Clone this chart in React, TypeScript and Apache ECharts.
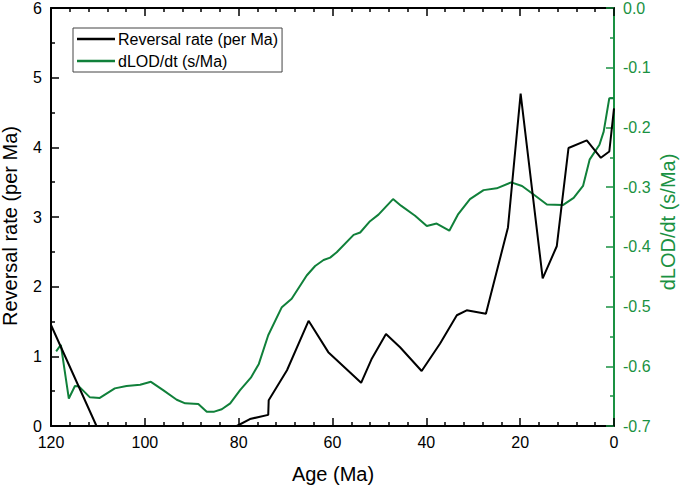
import React, { useEffect, useRef } from "react";
import * as echarts from "echarts";

const reversalAge = [120, 110.3, 80.4, 77.6, 73.7, 73.6, 69.7, 65.1, 60.9, 53.9, 51.6, 48.6, 45.6, 41.0, 37.1, 33.5, 31.4, 27.3, 22.6, 19.9, 15.2, 12.2, 9.7, 5.8, 2.8, 1.0, 0];
const reversalRate = [1.45, 0, 0, 0.1, 0.16, 0.37, 0.8, 1.51, 1.06, 0.62, 0.97, 1.32, 1.13, 0.79, 1.18, 1.59, 1.66, 1.61, 2.85, 4.77, 2.12, 2.58, 3.99, 4.1, 3.85, 3.94, 4.56];

const lodAge = [118.9, 117.9, 116.2, 114.9, 114.0, 111.7, 109.6, 106.4, 103.9, 101.0, 98.7, 96.1, 93.2, 91.4, 88.6, 86.8, 85.2, 83.6, 81.8, 79.7, 77.4, 75.7, 73.7, 70.8, 68.7, 65.5, 63.7, 61.9, 60.5, 59.1, 55.5, 54.1, 52.0, 50.2, 47.1, 45.4, 42.4, 39.9, 37.8, 35.1, 33.2, 30.7, 27.8, 25.0, 21.9, 19.6, 17.2, 14.3, 10.9, 8.6, 6.6, 5.2, 3.1, 2.2, 1.0, 0];
const lodRate = [-0.575, -0.564, -0.654, -0.633, -0.634, -0.652, -0.653, -0.637, -0.633, -0.631, -0.626, -0.64, -0.656, -0.662, -0.663, -0.676, -0.676, -0.672, -0.662, -0.64, -0.619, -0.596, -0.548, -0.501, -0.487, -0.448, -0.432, -0.422, -0.418, -0.409, -0.38, -0.376, -0.357, -0.346, -0.32, -0.331, -0.348, -0.365, -0.361, -0.373, -0.345, -0.32, -0.305, -0.302, -0.292, -0.298, -0.312, -0.329, -0.33, -0.318, -0.298, -0.254, -0.229, -0.207, -0.151, -0.151];

const seriesNames = ["Reversal rate (per Ma)", "dLOD/dt (s/Ma)"];
const xTitle = "Age (Ma)";
const leftTitle = "Reversal rate (per Ma)";
const rightTitle = "dLOD/dt (s/Ma)";

const FONT = "'Liberation Sans', Arial, sans-serif";
const BLACK = "#000000";
const GREEN_LINE = "#10803a";
const GREEN_AXIS = "#1a9142";

export default function App() {
  const ref = useRef<HTMLDivElement>(null);
  useEffect(() => {
    if (!ref.current) return;
    const chart = echarts.init(ref.current, null, { renderer: "svg" });
    const xCommon = {
      type: "value",
      min: 0,
      max: 120,
      interval: 20,
      inverse: true,
      splitLine: { show: false },
      axisLine: { show: true, onZero: false, lineStyle: { color: BLACK, width: 2 } },
      axisTick: { show: true, inside: true, length: 8, lineStyle: { color: BLACK, width: 1.5 } },
      minorTick: { show: true, splitNumber: 5, length: 4, lineStyle: { color: BLACK, width: 1.5 } },
    };
    chart.setOption({
      animation: false,
      backgroundColor: "#ffffff",
      grid: { left: 51, right: 66, top: 6, bottom: 59, containLabel: false },
      legend: {
        left: 73,
        top: 28,
        orient: "vertical",
        data: [
          { name: seriesNames[0], icon: "rect", itemStyle: { color: BLACK } },
          { name: seriesNames[1], icon: "rect", itemStyle: { color: GREEN_LINE } },
        ],
        itemWidth: 38,
        itemHeight: 2.5,
        itemGap: 6,
        padding: [3, 4, 3, 4],
        borderColor: "#444",
        borderWidth: 1,
        borderRadius: 0,
        textStyle: { fontFamily: FONT, fontSize: 16, color: BLACK, padding: [0, 0, 0, -2] },
      },
      xAxis: [
        {
          ...xCommon,
          position: "bottom",
          axisLabel: { show: true, fontFamily: FONT, fontSize: 16, color: BLACK, margin: 8 },
        },
        {
          ...xCommon,
          position: "top",
          axisLabel: { show: false },
        },
      ],
      yAxis: [
        {
          type: "value",
          position: "left",
          min: 0,
          max: 6,
          interval: 1,
          splitLine: { show: false },
          axisLine: { show: true, onZero: false, lineStyle: { color: BLACK, width: 2 } },
          axisTick: { show: true, inside: true, length: 8, lineStyle: { color: BLACK, width: 1.5 } },
          minorTick: { show: true, splitNumber: 2, length: 4, lineStyle: { color: BLACK, width: 1.5 } },
          axisLabel: { fontFamily: FONT, fontSize: 16, color: BLACK, margin: 9 },
        },
        {
          type: "value",
          position: "right",
          min: -0.7,
          max: 0,
          interval: 0.1,
          splitLine: { show: false },
          axisLine: { show: true, onZero: false, lineStyle: { color: GREEN_AXIS, width: 2 } },
          axisTick: { show: true, inside: true, length: 8, lineStyle: { color: GREEN_AXIS, width: 1.5 } },
          minorTick: { show: true, splitNumber: 2, length: 4, lineStyle: { color: GREEN_AXIS, width: 1.5 } },
          axisLabel: {
            fontFamily: FONT,
            fontSize: 16,
            color: GREEN_AXIS,
            margin: 9,
            formatter: (v: number) => (Math.abs(v) < 1e-9 ? "0.0" : v.toFixed(1)),
          },
        },
      ],
      graphic: [
        {
          type: "text",
          x: 333,
          y: 474,
          style: { text: xTitle, fontFamily: FONT, fontSize: 20, fill: BLACK, align: "center", verticalAlign: "middle" },
        },
        {
          type: "text",
          x: 10,
          y: 226,
          rotation: Math.PI / 2,
          style: { text: leftTitle, fontFamily: FONT, fontSize: 20, fill: BLACK, align: "center", verticalAlign: "middle" },
        },
        {
          type: "text",
          x: 668,
          y: 222,
          rotation: Math.PI / 2,
          style: { text: rightTitle, fontFamily: FONT, fontSize: 20, fill: GREEN_AXIS, align: "center", verticalAlign: "middle" },
        },
      ],
      series: [
        {
          name: seriesNames[0],
          type: "line",
          xAxisIndex: 0,
          yAxisIndex: 0,
          data: reversalAge.map((a, i) => [a, reversalRate[i]]),
          showSymbol: false,
          symbol: "none",
          lineStyle: { color: BLACK, width: 2 },
          itemStyle: { color: BLACK },
          z: 3,
        },
        {
          name: seriesNames[1],
          type: "line",
          xAxisIndex: 0,
          yAxisIndex: 1,
          data: lodAge.map((a, i) => [a, lodRate[i]]),
          showSymbol: false,
          symbol: "none",
          lineStyle: { color: GREEN_LINE, width: 2 },
          itemStyle: { color: GREEN_LINE },
          z: 2,
        },
      ],
    });
    return () => chart.dispose();
  }, []);
  return (
    <div
      ref={ref}
      style={{ position: "absolute", left: 0, top: 0, width: 680, height: 485 }}
    />
  );
}
